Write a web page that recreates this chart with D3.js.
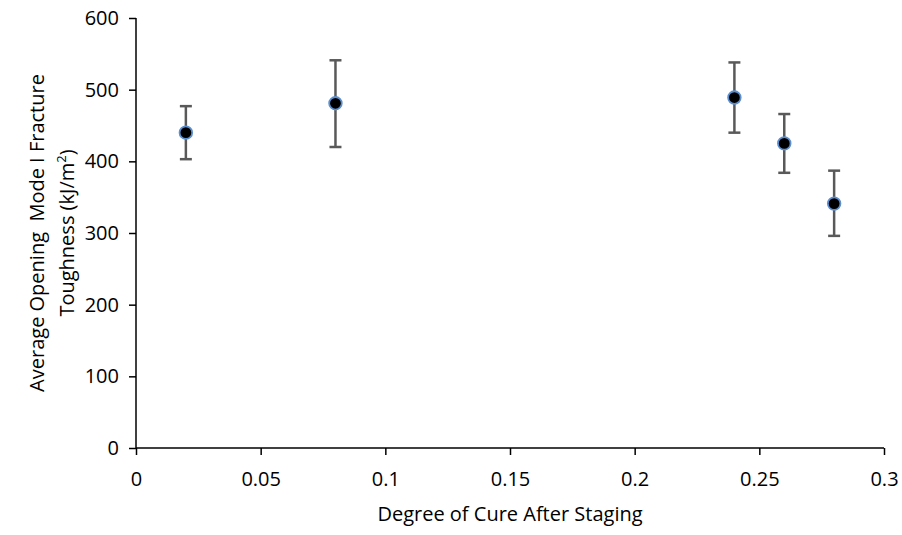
<!DOCTYPE html>
<html>
<head>
<meta charset="utf-8">
<script src="https://cdn.jsdelivr.net/npm/d3@7"></script>
<style>
  body { margin: 0; background: #fff; }
  svg text { font-family: "Open Sans", sans-serif; fill: #000; }
</style>
</head>
<body>
<div id="chart"></div>
<script>
// data
var cure = [0.02, 0.08, 0.24, 0.26, 0.28];
var toughness = [440, 481, 489, 425, 341];
var errUpper = [477, 541, 538, 466, 387];
var errLower = [403, 420, 440, 384, 296];
var xTicks = [0, 0.05, 0.1, 0.15, 0.2, 0.25, 0.3];
var yTicks = [0, 100, 200, 300, 400, 500, 600];

var W = 902, H = 535;
var margin = {top: 18, right: 18, bottom: 87, left: 136};
var width = W - margin.left - margin.right,
    height = H - margin.top - margin.bottom;

var svg = d3.select("#chart").append("svg")
    .attr("width", W)
    .attr("height", H);

var g = svg.append("g")
    .attr("transform", "translate(" + margin.left + "," + margin.top + ")");

var x = d3.scaleLinear().domain([0, 0.3]).range([0, width]);
var y = d3.scaleLinear().domain([0, 600]).range([height, 0]);

// axes
var xAxis = g.append("g")
    .attr("transform", "translate(0," + height + ")")
    .call(d3.axisBottom(x).tickValues(xTicks).tickSize(7).tickPadding(17)
        .tickFormat(function(d) { return d === 0 ? "0" : String(+d.toFixed(2)); }));

var yAxis = g.append("g")
    .call(d3.axisLeft(y).tickValues(yTicks).tickSize(7).tickPadding(10));

[xAxis, yAxis].forEach(function(a) {
    a.select(".domain").attr("stroke", "#000").attr("stroke-width", 1.5);
    a.selectAll(".tick line").attr("stroke", "#000").attr("stroke-width", 1.5);
    a.selectAll(".tick text").attr("font-size", 20).attr("fill", "#000");
});
xAxis.select(".domain").attr("d", "M0,0H" + width);
yAxis.select(".domain").attr("d", "M0," + height + "V0");

var pts = cure.map(function(c, i) {
    return {x: c, y: toughness[i], hi: errUpper[i], lo: errLower[i]};
});

// error bars
var eb = g.append("g").selectAll("g")
    .data(pts)
    .enter().append("g")
    .attr("stroke", "#595959")
    .attr("stroke-width", 2.5);

eb.append("line")
    .attr("x1", function(d) { return x(d.x); })
    .attr("x2", function(d) { return x(d.x); })
    .attr("y1", function(d) { return y(d.hi); })
    .attr("y2", function(d) { return y(d.lo); });

eb.selectAll(".cap")
    .data(function(d) { return [{x: d.x, v: d.hi}, {x: d.x, v: d.lo}]; })
    .enter().append("line")
    .attr("class", "cap")
    .attr("x1", function(d) { return x(d.x) - 6; })
    .attr("x2", function(d) { return x(d.x) + 6; })
    .attr("y1", function(d) { return y(d.v); })
    .attr("y2", function(d) { return y(d.v); });

// markers
g.append("g").selectAll("circle")
    .data(pts)
    .enter().append("circle")
    .attr("cx", function(d) { return x(d.x); })
    .attr("cy", function(d) { return y(d.y); })
    .attr("r", 6.3)
    .attr("fill", "#000")
    .attr("stroke", "#5b8fcf")
    .attr("stroke-width", 1.8);

// axis titles
svg.append("text")
    .attr("x", margin.left + width / 2)
    .attr("y", 521)
    .attr("text-anchor", "middle")
    .attr("font-size", 20)
    .text("Degree of Cure After Staging");

var yt = svg.append("text")
    .attr("transform", "translate(0," + (margin.top + height / 2) + ") rotate(-90)")
    .attr("text-anchor", "middle")
    .attr("font-size", 20)
    .attr("xml:space", "preserve");

yt.append("tspan").attr("x", 0).attr("y", 44).text("Average Opening  Mode I Fracture");
var t2 = yt.append("tspan").attr("x", 0).attr("y", 74).text("Toughness (kJ/m");
t2.append("tspan").attr("font-size", 13).attr("dy", -8).text("2");
t2.append("tspan").attr("dy", 8).text(")");
</script>
</body>
</html>
